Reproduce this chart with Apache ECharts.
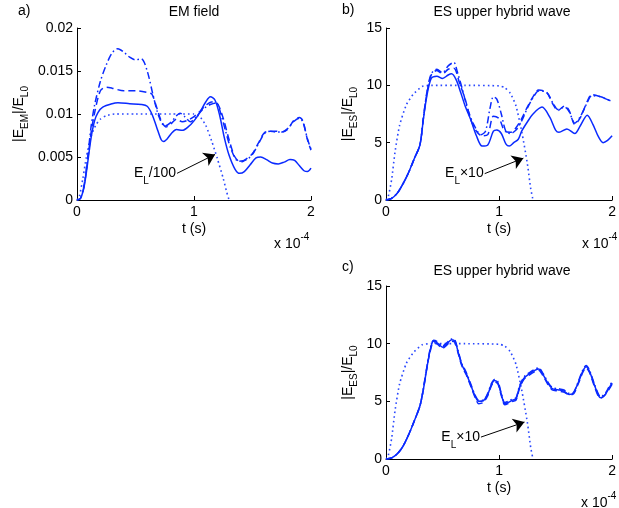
<!DOCTYPE html>
<html><head><meta charset="utf-8">
<script src="https://cdn.jsdelivr.net/npm/echarts@6/dist/echarts.min.js"></script>
<style>html,body{margin:0;padding:0;background:#fff}#c{width:619px;height:508px}</style>
</head><body><div id="c"></div>
<script>
// ---------- data (t in units of 1e-4 s) ----------
const xTicks = [0, 1, 2];
const emTicks = [0, 0.005, 0.01, 0.015, 0.02];
const esTicks = [0, 5, 10, 15];

// Panel a: EM field
const aSolid = [[0,0],[0.03,0.0002],[0.06,0.0015],[0.09,0.0042],[0.12,0.0072],[0.15,0.0092],[0.18,0.0102],[0.22,0.0108],[0.3,0.0112],[0.35,0.0113],[0.45,0.0112],[0.55,0.0111],[0.6,0.0109],[0.64,0.0100],[0.68,0.0085],[0.72,0.0070],[0.74,0.0068],[0.77,0.0071],[0.81,0.0078],[0.85,0.0082],[0.9,0.0081],[0.95,0.0085],[1.0,0.0092],[1.05,0.0102],[1.1,0.0114],[1.14,0.0120],[1.18,0.0116],[1.22,0.0098],[1.26,0.0072],[1.3,0.0052],[1.35,0.0036],[1.39,0.0031],[1.43,0.0033],[1.48,0.0041],[1.53,0.0049],[1.57,0.0050],[1.62,0.0047],[1.67,0.0043],[1.72,0.0042],[1.77,0.0044],[1.82,0.0047],[1.86,0.0046],[1.9,0.0040],[1.94,0.0034],[1.97,0.0033],[2.0,0.0037]];
const aDashed = [[0,0],[0.03,0.0002],[0.06,0.0016],[0.09,0.0045],[0.12,0.0078],[0.15,0.0101],[0.2,0.0127],[0.25,0.0131],[0.3,0.0130],[0.4,0.0127],[0.5,0.0127],[0.6,0.0125],[0.64,0.0123],[0.68,0.0108],[0.72,0.0092],[0.76,0.0085],[0.8,0.0088],[0.85,0.0094],[0.9,0.0091],[0.95,0.0093],[1.0,0.0097],[1.05,0.0103],[1.1,0.0110],[1.15,0.0114],[1.2,0.0112],[1.25,0.0095],[1.3,0.0070],[1.35,0.0050],[1.4,0.0044],[1.45,0.0048],[1.5,0.0054],[1.55,0.0066],[1.6,0.0078],[1.65,0.0080],[1.7,0.0080],[1.75,0.0079],[1.8,0.0082],[1.85,0.0092],[1.9,0.0096],[1.93,0.0092],[1.97,0.0070],[2.0,0.0058]];
const aDashDot = [[0,0],[0.03,0.0002],[0.06,0.0017],[0.09,0.0048],[0.12,0.0085],[0.15,0.0110],[0.2,0.0138],[0.25,0.0157],[0.3,0.0171],[0.35,0.0176],[0.4,0.0172],[0.45,0.0166],[0.5,0.0163],[0.55,0.0164],[0.6,0.0150],[0.65,0.0122],[0.7,0.0097],[0.75,0.0086],[0.8,0.0090],[0.85,0.0098],[0.88,0.0101],[0.92,0.0097],[0.97,0.0091],[1.02,0.0097],[1.08,0.0106],[1.14,0.0111],[1.19,0.0113],[1.23,0.0100],[1.27,0.0080],[1.32,0.0058],[1.38,0.0045],[1.45,0.0047],[1.5,0.0053],[1.55,0.0065],[1.6,0.0077],[1.65,0.0080],[1.7,0.0079],[1.75,0.0079],[1.8,0.0083],[1.85,0.0091],[1.9,0.0095],[1.93,0.0091],[1.97,0.0071],[2.0,0.0059]];
const aLaser = [[0,0],[0.02,0.0004],[0.05,0.0025],[0.08,0.0050],[0.12,0.0074],[0.16,0.0087],[0.2,0.0094],[0.25,0.0098],[0.32,0.0100],[0.5,0.0100],[0.8,0.0100],[1.0,0.0100],[1.05,0.0097],[1.1,0.0087],[1.15,0.0069],[1.2,0.0048],[1.25,0.0025],[1.28,0.0009],[1.3,0]];

// Panel b: ES upper hybrid wave
const bSolid = [[0,0],[0.05,0.15],[0.1,0.6],[0.15,1.4],[0.2,2.4],[0.25,3.6],[0.3,4.8],[0.33,7.0],[0.36,9.0],[0.4,10.6],[0.45,10.8],[0.5,10.6],[0.55,10.9],[0.58,11.0],[0.62,10.5],[0.66,9.4],[0.7,8.2],[0.75,7.0],[0.8,5.6],[0.85,4.7],[0.9,4.8],[0.95,6.0],[0.98,6.1],[1.02,5.8],[1.06,4.9],[1.09,4.7],[1.13,5.0],[1.17,5.3],[1.2,6.0],[1.25,6.8],[1.3,7.5],[1.38,8.1],[1.45,7.2],[1.5,6.1],[1.53,5.9],[1.6,6.2],[1.67,5.8],[1.72,6.5],[1.78,7.4],[1.83,6.6],[1.88,5.5],[1.92,5.0],[1.96,5.2],[2.0,5.6]];
const bDashed = [[0,0],[0.05,0.15],[0.1,0.6],[0.15,1.4],[0.2,2.4],[0.25,3.6],[0.3,4.8],[0.33,7.1],[0.36,9.2],[0.4,10.9],[0.45,11.3],[0.5,11.0],[0.55,11.4],[0.6,11.5],[0.65,10.2],[0.7,8.8],[0.75,7.0],[0.8,6.0],[0.85,5.6],[0.9,5.7],[0.95,7.3],[1.0,7.1],[1.05,6.0],[1.1,5.9],[1.15,6.3],[1.2,7.1],[1.25,8.1],[1.3,9.0],[1.35,9.6],[1.42,9.4],[1.48,8.3],[1.52,7.8],[1.58,8.2],[1.62,7.8],[1.67,6.6],[1.72,7.2],[1.78,8.6],[1.82,9.2],[1.9,9.0],[1.95,8.8],[2.0,8.6]];
const bDashDot = [[0,0],[0.05,0.15],[0.1,0.6],[0.15,1.4],[0.2,2.4],[0.25,3.6],[0.3,4.8],[0.33,7.1],[0.36,9.3],[0.4,11.0],[0.45,11.4],[0.5,11.1],[0.55,11.7],[0.6,12.0],[0.63,11.2],[0.68,9.5],[0.72,8.0],[0.78,6.5],[0.84,5.7],[0.88,6.0],[0.92,8.0],[0.95,9.0],[0.98,8.8],[1.02,7.5],[1.06,6.0],[1.1,5.8],[1.15,6.1],[1.2,6.9],[1.25,8.0],[1.3,8.9],[1.35,9.5],[1.42,9.4],[1.48,8.4],[1.52,7.9],[1.58,8.1],[1.62,7.7],[1.67,6.7],[1.72,7.3],[1.78,8.5],[1.82,9.1],[1.9,9.0],[1.95,8.8],[2.0,8.6]];
const bLaser = [[0,0],[0.02,0.3],[0.05,1.8],[0.08,4.2],[0.12,6.5],[0.18,8.3],[0.24,9.2],[0.32,9.9],[0.4,10.0],[0.7,10.0],[1.0,9.95],[1.05,9.8],[1.1,9.3],[1.15,8.2],[1.2,6.0],[1.25,3.2],[1.28,1.0],[1.3,0]];

// Panel c: ES upper hybrid wave
const cSolid = [[0,0],[0.05,0.1],[0.1,0.45],[0.15,1.1],[0.2,2.1],[0.25,3.3],[0.3,4.6],[0.33,6.0],[0.36,7.8],[0.39,9.4],[0.42,10.2],[0.45,10.1],[0.5,9.7],[0.54,10.0],[0.58,10.35],[0.61,10.2],[0.64,9.2],[0.67,8.2],[0.71,7.4],[0.75,6.4],[0.79,5.4],[0.82,5.0],[0.86,5.05],[0.9,5.6],[0.93,6.4],[0.96,6.8],[0.99,6.6],[1.02,5.6],[1.05,4.8],[1.08,4.9],[1.12,5.1],[1.15,5.2],[1.18,6.2],[1.22,7.0],[1.27,7.4],[1.32,7.7],[1.35,7.8],[1.39,7.3],[1.43,6.6],[1.47,6.1],[1.52,6.0],[1.57,5.9],[1.62,5.6],[1.65,5.65],[1.7,6.6],[1.74,7.6],[1.77,8.0],[1.8,7.6],[1.84,6.5],[1.88,5.5],[1.9,5.3],[1.94,5.6],[1.97,6.1],[2.0,6.6]];
const cDashed = [[0,0],[0.05,0.1],[0.1,0.45],[0.15,1.1],[0.2,2.1],[0.25,3.3],[0.3,4.6],[0.33,6.0],[0.36,7.8],[0.39,9.3],[0.42,10.1],[0.45,10.0],[0.5,9.6],[0.54,9.9],[0.58,10.2],[0.61,10.1],[0.64,9.1],[0.67,8.1],[0.71,7.3],[0.75,6.3],[0.79,5.3],[0.82,4.8],[0.86,4.9],[0.9,5.5],[0.93,6.3],[0.96,6.7],[0.99,6.5],[1.02,5.5],[1.05,4.7],[1.08,4.8],[1.12,5.0],[1.15,5.1],[1.18,6.1],[1.22,6.9],[1.27,7.3],[1.32,7.6],[1.35,7.7],[1.39,7.2],[1.43,6.5],[1.47,6.0],[1.52,5.9],[1.57,5.8],[1.62,5.6],[1.65,5.6],[1.7,6.5],[1.74,7.5],[1.77,7.9],[1.8,7.5],[1.84,6.4],[1.88,5.4],[1.9,5.3],[1.94,5.6],[1.97,6.0],[2.0,6.5]];
const cDashDot = [[0,0],[0.05,0.1],[0.1,0.45],[0.15,1.1],[0.2,2.1],[0.25,3.3],[0.3,4.6],[0.33,6.1],[0.36,7.9],[0.39,9.5],[0.42,10.3],[0.45,10.2],[0.5,9.8],[0.54,10.1],[0.58,10.4],[0.61,10.3],[0.64,9.3],[0.67,8.3],[0.71,7.5],[0.75,6.5],[0.79,5.5],[0.82,5.1],[0.86,5.1],[0.9,5.7],[0.93,6.5],[0.96,6.9],[0.99,6.7],[1.02,5.7],[1.05,4.9],[1.08,5.0],[1.12,5.2],[1.15,5.3],[1.18,6.3],[1.22,7.1],[1.27,7.5],[1.32,7.8],[1.35,7.9],[1.39,7.4],[1.43,6.7],[1.47,6.2],[1.52,6.1],[1.57,6.0],[1.62,5.7],[1.65,5.7],[1.7,6.7],[1.74,7.7],[1.77,8.1],[1.8,7.7],[1.84,6.6],[1.88,5.6],[1.9,5.4],[1.94,5.7],[1.97,6.2],[2.0,6.7]];
const cLaser = [[0,0],[0.02,0.3],[0.05,1.8],[0.08,4.2],[0.12,6.5],[0.18,8.3],[0.24,9.2],[0.32,9.9],[0.4,10.0],[0.7,10.0],[1.0,9.95],[1.05,9.8],[1.1,9.3],[1.15,8.2],[1.2,6.0],[1.25,3.2],[1.28,1.0],[1.3,0]];

// annotation arrows (data coordinates: tail, head) and labels
const aArrow = [[0.855, 0.0031], [1.18, 0.0053]];
const bArrow = [[0.873, 2.3], [1.215, 3.65]];
const cArrow = [[0.84, 1.9], [1.225, 3.2]];
const aNote = 'E_L/100';
const bNote = 'E_L×10';
const cNote = 'E_L×10';

// ---------- chart ----------
const FONT = '"Liberation Sans", Arial, Helvetica, sans-serif';
const BLUE = '#0a2aff';
const chart = echarts.init(document.getElementById('c'), null, {renderer: 'canvas'});

const grids = [
  {left: 77, top: 28, width: 234, height: 172},
  {left: 386, top: 28, width: 232, height: 172},
  {left: 386, top: 286, width: 232, height: 173}
];

function xAx(i) {
  return {
    type: 'value', gridIndex: i, min: 0, max: 2, interval: 1,
    name: 't (s)', nameLocation: 'middle', nameGap: 22,
    nameTextStyle: {fontFamily: FONT, fontSize: 14, color: '#000'},
    axisLine: {lineStyle: {color: '#000', width: 1}},
    axisTick: {inside: true, length: 4, lineStyle: {color: '#000'}},
    axisLabel: {fontFamily: FONT, fontSize: 14, color: '#000', margin: 5},
    splitLine: {show: false}
  };
}
const richY = {
  m: {fontFamily: FONT, fontSize: 14, color: '#000'},
  s: {fontFamily: FONT, fontSize: 10, color: '#000', padding: [12, 0, 0, 0]}
};
function yAx(i, max, interval, nm, gap) {
  return {
    type: 'value', gridIndex: i, min: 0, max: max, interval: interval,
    name: nm, nameLocation: 'middle', nameGap: gap, nameRotate: 90,
    nameTextStyle: {rich: richY},
    axisLine: {show: true, lineStyle: {color: '#000', width: 1}},
    axisTick: {show: true, inside: true, length: 4, lineStyle: {color: '#000'}},
    axisLabel: {fontFamily: FONT, fontSize: 14, color: '#000', margin: 4},
    splitLine: {show: false}
  };
}

function noteFmt(s) {
  const parts = s.split('_');
  return '{e|' + parts[0] + '}{s|' + parts[1][0] + '}{e|' + parts[1].slice(1) + '}';
}
const richNote = {
  e: {fontFamily: FONT, fontSize: 14, color: '#000'},
  s: {fontFamily: FONT, fontSize: 10, color: '#000', padding: [16, 0, 0, 0]}
};

function ln(gi, data, type, width) {
  return {
    type: 'line', xAxisIndex: gi, yAxisIndex: gi, data: data,
    showSymbol: false, symbol: 'none', smooth: 0.3, silent: true,
    lineStyle: {color: BLUE, width: width || 1.5, type: type, cap: 'butt'},
    z: 2
  };
}
function laser(gi, data, arrow, note) {
  const s = ln(gi, data, [1.6, 3.1], 1.6);
  s.smooth = 0.2;
  s.lineStyle.color = '#2a48ff';
  s.markLine = {
    silent: true, symbol: ['none', 'arrow'], symbolSize: 11, animation: false,
    label: {show: false},
    lineStyle: {color: '#000', width: 1, type: 'solid'},
    data: [[{coord: arrow[0]}, {coord: arrow[1]}]]
  };
  s.markPoint = {
    silent: true, animation: false, symbol: 'circle', symbolSize: 0,
    data: [{coord: arrow[0], label: {show: true, position: 'left', distance: 1,
      formatter: noteFmt(note), rich: richNote}}]
  };
  return s;
}

const DASH = [7, 4];
const DASHDOT = [7, 3, 1.5, 3];

const supText = {
  text: '{m|x 10}{p|-4}',
  rich: {m: {font: '14px ' + FONT, fill: '#000', padding: [8, 0, 0, 0]}, p: {font: '10px ' + FONT, fill: '#000', padding: [0, 0, 6, 0]}}
};

const option = {
  animation: false,
  backgroundColor: '#fff',
  grid: grids,
  xAxis: [xAx(0), xAx(1), xAx(2)],
  yAxis: [
    yAx(0, emTicks[emTicks.length - 1], emTicks[1] - emTicks[0], '{m||E}{s|EM}{m||/E}{s|L0}', 47),
    yAx(1, esTicks[esTicks.length - 1], esTicks[1] - esTicks[0], '{m||E}{s|ES}{m||/E}{s|L0}', 27),
    yAx(2, esTicks[esTicks.length - 1], esTicks[1] - esTicks[0], '{m||E}{s|ES}{m||/E}{s|L0}', 27)
  ],
  series: [
    laser(0, aLaser, aArrow, aNote),
    ln(0, aDashDot, DASHDOT), ln(0, aDashed, DASH), ln(0, aSolid, 'solid'),
    laser(1, bLaser, bArrow, bNote),
    ln(1, bDashDot, DASHDOT), ln(1, bDashed, DASH), ln(1, bSolid, 'solid'),
    laser(2, cLaser, cArrow, cNote),
    ln(2, cDashDot, DASHDOT), ln(2, cDashed, DASH), ln(2, cSolid, 'solid')
  ],
  graphic: [
    {type: 'text', x: 18, y: 11, style: {text: 'a)', font: '14px ' + FONT, fill: '#000', textVerticalAlign: 'middle'}},
    {type: 'text', x: 194, y: 12, style: {text: 'EM field', font: '14px ' + FONT, fill: '#000', textAlign: 'center', textVerticalAlign: 'middle'}},
    {type: 'text', x: 342, y: 10, style: {text: 'b)', font: '14px ' + FONT, fill: '#000', textVerticalAlign: 'middle'}},
    {type: 'text', x: 502, y: 12, style: {text: 'ES upper hybrid wave', font: '14px ' + FONT, fill: '#000', textAlign: 'center', textVerticalAlign: 'middle'}},
    {type: 'text', x: 342, y: 267, style: {text: 'c)', font: '14px ' + FONT, fill: '#000', textVerticalAlign: 'middle'}},
    {type: 'text', x: 502, y: 271, style: {text: 'ES upper hybrid wave', font: '14px ' + FONT, fill: '#000', textAlign: 'center', textVerticalAlign: 'middle'}},
    {type: 'text', x: 274, y: 229, style: supText},
    {type: 'text', x: 582, y: 229, style: supText},
    {type: 'text', x: 581, y: 488, style: supText}
  ]
};
chart.setOption(option);
</script>
</body></html>
